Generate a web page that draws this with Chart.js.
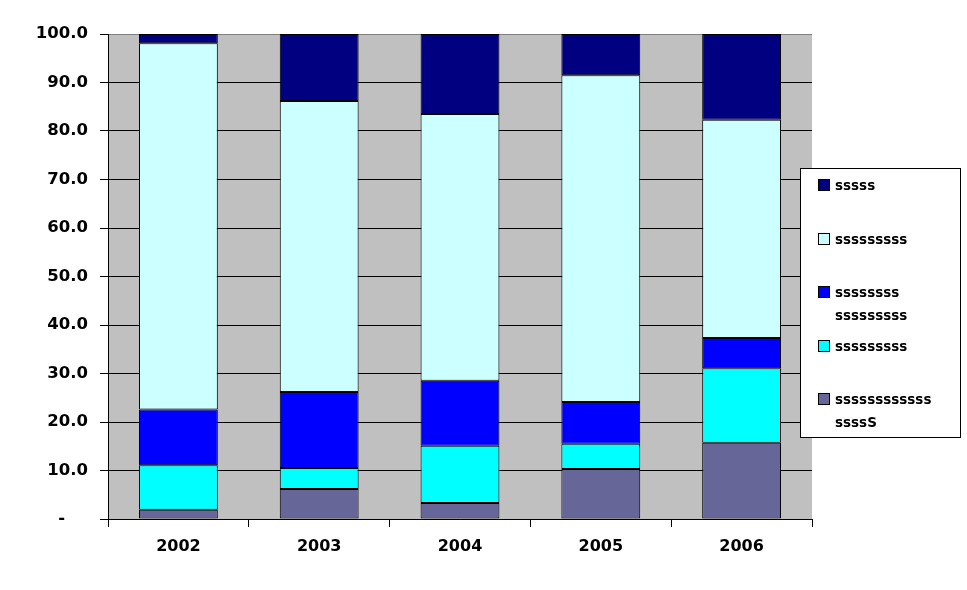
<!DOCTYPE html>
<html>
<head>
<meta charset="utf-8">
<script src="https://cdn.jsdelivr.net/npm/chart.js@4/dist/chart.umd.min.js"></script>
<style>
  body { margin: 0; background: #fff; }
  #wrap { width: 967px; height: 590px; position: relative; }
</style>
</head>
<body>
<div id="wrap"><canvas id="myChart"></canvas></div>
<script>
// Data
const years = ['2002', '2003', '2004', '2005', '2006'];
const seriesPurple = [1.9, 6.2, 3.3, 10.3, 15.7];
const seriesCyan = [9.2, 4.3, 11.8, 5.2, 15.4];
const seriesBlue = [11.5, 15.7, 13.4, 8.6, 6.2];
const seriesLightCyan = [75.5, 60.0, 55.0, 67.4, 45.0];
const seriesNavy = [1.9, 13.8, 16.5, 8.5, 17.7];
const yTicks = [0, 10, 20, 30, 40, 50, 60, 70, 80, 90, 100];

const FONT = "'Comic Sans MS', 'DejaVu Sans', sans-serif";

// gray plot background
const plotBg = {
    id: 'plotBg',
    beforeDraw(chart) {
        const a = chart.chartArea, c = chart.ctx;
        c.save();
        c.fillStyle = '#C0C0C0';
        c.fillRect(a.left, a.top, a.right - a.left, a.bottom - a.top);
        c.restore();
    }
};

// legend box on the right, with wrapped labels
const boxLegend = {
    id: 'boxLegend',
    afterDraw(chart) {
        const c = chart.ctx;
        c.save();
        c.fillStyle = '#fff';
        c.fillRect(800.5, 168.5, 160, 269);
        c.strokeStyle = '#000';
        c.lineWidth = 1;
        c.strokeRect(800.5, 168.5, 160, 269);
        const tops = [179, 233, 286, 340, 393];
        const order = chart.data.datasets.slice().reverse();
        c.font = 'bold 13.5px ' + FONT;
        c.textBaseline = 'middle';
        order.forEach((ds, i) => {
            const y = tops[i];
            c.fillStyle = ds.backgroundColor;
            c.fillRect(818.5, y + 0.5, 11, 11);
            c.strokeStyle = '#000';
            c.strokeRect(818.5, y + 0.5, 11, 11);
            c.fillStyle = '#000';
            ds.legendLines.forEach((t, j) => {
                c.fillText(t, 835, y + 7 + j * 23);
            });
        });
        c.restore();
    }
};

const ctx = document.getElementById('myChart').getContext('2d');

const myChart = new Chart(ctx, {
    type: 'bar',
    data: {
        labels: years,
        datasets: [
            { label: 'ssssssssssss ssssS', legendLines: ['ssssssssssss', 'ssssS'], data: seriesPurple, backgroundColor: '#666699' },
            { label: 'sssssssss', legendLines: ['sssssssss'], data: seriesCyan, backgroundColor: '#00FFFF' },
            { label: 'ssssssss sssssssss', legendLines: ['ssssssss', 'sssssssss'], data: seriesBlue, backgroundColor: '#0000FF' },
            { label: 'sssssssss', legendLines: ['sssssssss'], data: seriesLightCyan, backgroundColor: '#CCFFFF' },
            { label: 'sssss', legendLines: ['sssss'], data: seriesNavy, backgroundColor: '#000080' }
        ].map(d => Object.assign(d, {
            borderColor: '#000',
            borderWidth: 1,
            borderSkipped: false,
            barPercentage: 0.56,
            categoryPercentage: 1
        }))
    },
    options: {
        responsive: true,
        maintainAspectRatio: false,
        animation: false,
        layout: { padding: { top: 34, right: 155, left: 0, bottom: 0 } },
        plugins: {
            legend: { display: false },
            tooltip: { enabled: false }
        },
        scales: {
            x: {
                stacked: true,
                offset: true,
                afterFit: s => { s.height = 71; },
                grid: {
                    offset: true,
                    drawOnChartArea: false,
                    color: '#000',
                    tickLength: 8,
                    tickColor: '#000'
                },
                border: { color: '#000', width: 1 },
                ticks: {
                    color: '#000',
                    padding: 10,
                    font: { family: FONT, size: 16, weight: 'bold' }
                }
            },
            y: {
                stacked: true,
                min: 0,
                max: 100,
                afterFit: s => { s.width = 108; },
                afterBuildTicks: s => { s.ticks = yTicks.map(v => ({ value: v })); },
                grid: {
                    color: c => (c.tick && c.tick.value === 100 ? '#808080' : '#000'),
                    tickColor: '#000',
                    tickLength: 8
                },
                border: { color: '#000', width: 1 },
                ticks: {
                    color: '#000',
                    padding: 12,
                    font: { family: FONT, size: 16.5, weight: 'bold' },
                    callback: v => (v === 0 ? '-    ' : v.toFixed(1))
                }
            }
        }
    },
    plugins: [plotBg, boxLegend]
});
</script>
</body>
</html>
